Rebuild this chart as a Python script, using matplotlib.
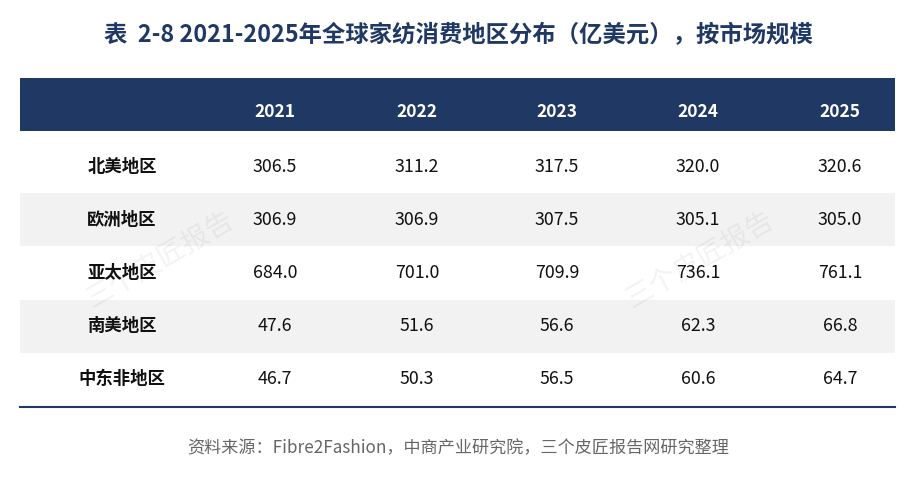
import matplotlib
matplotlib.use("Agg")
import matplotlib.pyplot as plt
from matplotlib.patches import Rectangle

plt.rcParams['font.family'] = ['Noto Sans CJK SC', 'DejaVu Sans']

title = "表  2-8 2021-2025年全球家纺消费地区分布（亿美元），按市场规模"
years = ["2021", "2022", "2023", "2024", "2025"]
regions = ["北美地区", "欧洲地区", "亚太地区", "南美地区", "中东非地区"]
values = [
    [306.5, 311.2, 317.5, 320.0, 320.6],
    [306.9, 306.9, 307.5, 305.1, 305.0],
    [684.0, 701.0, 709.9, 736.1, 761.1],
    [47.6, 51.6, 56.6, 62.3, 66.8],
    [46.7, 50.3, 56.5, 60.6, 64.7],
]
source = "资料来源：Fibre2Fashion，中商产业研究院，三个皮匠报告网研究整理"

navy = "#1f3864"
fig = plt.figure(figsize=(9.16, 4.78), dpi=100)
ax = fig.add_axes([0, 0, 1, 1])
ax.set_xlim(0, 916); ax.set_ylim(478, 0); ax.axis('off')

ax.text(458, 35, title, ha='center', va='center', fontsize=16.8, fontweight='bold', color=navy)
x0, x1 = 20, 895
ax.add_patch(Rectangle((x0, 78), x1 - x0, 53, color=navy, lw=0))
label_x = 122
col_x = [275, 417, 557, 698, 840]
for x, y in zip(col_x, years):
    ax.text(x, 112, y, ha='center', va='center', fontsize=12.5, fontweight='bold', color='white')
top, h = 140, 53.2
for i, (r, row) in enumerate(zip(regions, values)):
    yt = top + i * h
    if i % 2 == 1:
        ax.add_patch(Rectangle((x0, yt), x1 - x0, h, color="#f2f2f2", lw=0))
    yc = yt + h / 2
    ax.text(label_x, yc, r, ha='center', va='center', fontsize=12.5, fontweight='bold', color='#111111')
    for x, v in zip(col_x, row):
        ax.text(x, yc, f"{v:.1f}", ha='center', va='center', fontsize=12.8, color='#111111')
ax.plot([x0, x1], [top + 5 * h + 1, top + 5 * h + 1], color=navy, lw=1.5)
for wx, wy in [(160, 260), (700, 260)]:
    ax.text(wx, wy, "三个皮匠报告", ha='center', va='center', fontsize=20, color='#000000',
            alpha=0.05, rotation=30)
ax.text(458, 448, source, ha='center', va='center', fontsize=12.3, color='#666666')
fig.savefig("out.png", dpi=100)
